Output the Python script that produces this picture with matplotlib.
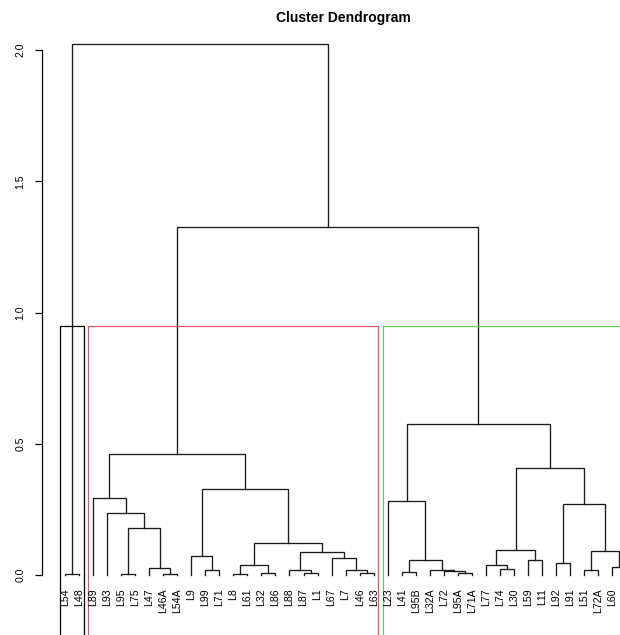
import matplotlib
matplotlib.use("Agg")
import matplotlib.pyplot as plt

plt.rcParams['font.family'] = ['Liberation Sans', 'DejaVu Sans']

# ---- data ----
leaf_labels = ["L54", "L48", "L89", "L93", "L95", "L75", "L47", "L46A", "L54A",
               "L9", "L99", "L71", "L8", "L61", "L32", "L86", "L88", "L87", "L1",
               "L67", "L7", "L46", "L63", "L23", "L41", "L95B", "L32A", "L72",
               "L95A", "L71A", "L77", "L74", "L30", "L59", "L11", "L92", "L91",
               "L51", "L72A", "L60", "L12"]

# R-style merge table: negative = leaf (1-based), positive = earlier merge (1-based)
merge_left = [-1, -5, -8, -7, 2, -4, -3, -11, -10, -13, -15, 10, -18, -17, -22,
              -21, -20, 14, 12, 9, 7, -25, -29, -28, -27, 22, -24, -32, -31, -34,
              29, -36, -38, -40, 33, 32, 31, 27, 21, 1]
merge_right = [-2, -6, -9, 3, 4, 5, 6, -12, 8, -14, -16, 11, -19, 13, -23,
               15, 16, 17, 18, 19, 20, -26, -30, 23, 24, 25, 26, -33, 28, -35,
               30, -37, -39, -41, 34, 35, 36, 37, 38, 39]
merge_height = [0.004, 0.004, 0.004, 0.027, 0.179, 0.236, 0.293, 0.019, 0.072, 0.005,
                0.008, 0.038, 0.008, 0.019, 0.008, 0.019, 0.065, 0.088, 0.122, 0.328,
                0.461, 0.011, 0.008, 0.015, 0.019, 0.057, 0.282, 0.023, 0.038, 0.057,
                0.095, 0.046, 0.019, 0.030, 0.091, 0.270, 0.408, 0.575, 1.326, 2.023]

# rect.hclust clusters: (first leaf, last leaf) 1-based, colour
cluster_first = [1, 3, 24]
cluster_last = [2, 23, 41]
cluster_colors = ["black", "#DF536B", "#61D04F"]
rect_height = 0.95

y_ticks = [0.0, 0.5, 1.0, 1.5, 2.0]
y_ticklabels = ["0.0", "0.5", "1.0", "1.5", "2.0"]
title = "Cluster Dendrogram"

# ---- figure ----
W, H = 620, 635
fig = plt.figure(figsize=(W / 100, H / 100), dpi=100)

px_per_leaf = 14.03
px_per_unit = 262.5
x0_px = 42           # y-axis position
y0_px = 575          # height 0
xl = 1 - (65 - x0_px) / px_per_leaf
ax_w_px = 607
ax_top_px = 30
ax = fig.add_axes([x0_px / W, 0, ax_w_px / W, (H - ax_top_px) / H])
ax.set_xlim(xl, xl + ax_w_px / px_per_leaf)
ax.set_ylim((y0_px - H) / px_per_unit, (y0_px - ax_top_px) / px_per_unit)

n = len(leaf_labels)
node_x = {}
node_h = {}


def pos(idx):
    if idx < 0:
        return float(-idx), 0.0
    return node_x[idx], node_h[idx]


lw = 0.95
col = "#1a1a1a"
for k in range(len(merge_height)):
    a, b, h = merge_left[k], merge_right[k], merge_height[k]
    xa, ha = pos(a)
    xb, hb = pos(b)
    ax.plot([xa, xa, xb, xb], [ha, h, h, hb], color=col, lw=lw,
            solid_joinstyle='miter', clip_on=False)
    node_x[k + 1] = (xa + xb) / 2
    node_h[k + 1] = h

# leaf labels
lab_y = (y0_px - 588) / px_per_unit
for i, lab in enumerate(leaf_labels):
    ax.text(i + 1, lab_y, lab, rotation=90, ha='center', va='top',
            fontsize=7.6, color='black')

# rectangles
ybot = (y0_px - H - 20) / px_per_unit
for f, l, c in zip(cluster_first, cluster_last, cluster_colors):
    xa = f - 0.34
    xb = l + 0.33
    ax.plot([xa, xa, xb, xb], [ybot, rect_height, rect_height, ybot],
            color=c, lw=0.9, clip_on=False)

for s in ['top', 'right', 'bottom']:
    ax.spines[s].set_visible(False)
ax.spines['left'].set_bounds(0, 2)
ax.spines['left'].set_linewidth(0.9)
ax.set_xticks([])
ax.set_yticks(y_ticks)
ax.set_yticklabels(y_ticklabels, rotation=90, va='center', fontsize=7.6)
ax.tick_params(axis='y', length=5, width=0.9, pad=7)
ax.patch.set_alpha(0)

fig.text(343 / W, 1 - 18 / H, title, ha='center', va='center',
         fontsize=10, fontweight='bold')

fig.savefig("out.png", dpi=100)
